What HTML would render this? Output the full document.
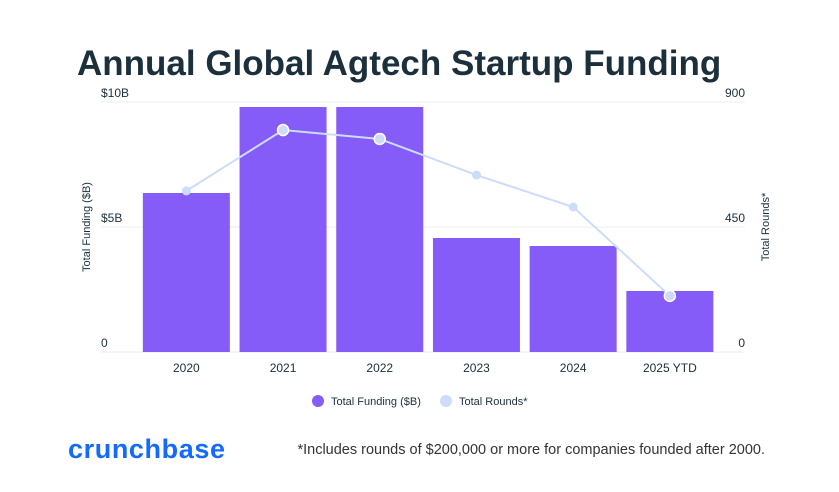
<!DOCTYPE html>
<html><head><meta charset="utf-8"><style>
html,body{margin:0;padding:0;background:#fff;width:839px;height:492px;overflow:hidden;font-family:"Liberation Sans",sans-serif}
</style></head><body>
<svg width="839" height="492" xmlns="http://www.w3.org/2000/svg">
<text x="77" y="75" font-size="35" font-weight="bold" fill="#1b2f3c">Annual Global Agtech Startup Funding</text>
<g id="grid"></g><g id="bars"></g><g id="line"></g><g id="axes"></g>
<text transform="translate(90,227) rotate(-90)" text-anchor="middle" font-size="11" fill="#1b2f3c">Total Funding ($B)</text>
<text transform="translate(769,227) rotate(-90)" text-anchor="middle" font-size="11" fill="#1b2f3c">Total Rounds*</text>
<g><circle cx="318" cy="401" r="6" fill="#855cf8"/><text x="331" y="405" font-size="11" fill="#1b2f3c">Total Funding ($B)</text></g>
<g><circle cx="446" cy="401" r="6" fill="#cddcfb"/><text x="459" y="405" font-size="11" fill="#1b2f3c">Total Rounds*</text></g>
<text x="68" y="458" font-size="27" font-weight="bold" fill="#146aff" textLength="157">crunchbase</text>
<text x="765" y="454" text-anchor="end" font-size="14.5" fill="#333">*Includes rounds of $200,000 or more for companies founded after 2000.</text>
</svg>
<script>
const categories=["2020","2021","2022","2023","2024","2025 YTD"];
const funding=[6.36,9.8,9.8,4.56,4.24,2.44];
const rounds=[580,799,767,637,522,202];
const leftTicks=[0,5,10];
const leftTickLabels=["0","$5B","$10B"];
const rightTicks=[0,450,900];
const NS="http://www.w3.org/2000/svg";
const plotTop=102,plotBottom=352,x0=138,band=96.7;
const yL=v=>plotBottom-(v/10)*(plotBottom-plotTop);
const yR=v=>plotBottom-(v/900)*(plotBottom-plotTop);
const xC=i=>x0+band*(i+0.5);
function mk(tag,attrs,parent){const e=document.createElementNS(NS,tag);for(const k in attrs)e.setAttribute(k,attrs[k]);document.getElementById(parent).appendChild(e);return e;}
leftTicks.forEach((t,i)=>{
 const g=mk('line',{x1:101,x2:745,y1:yL(t),y2:yL(t),stroke:'#ececec','stroke-width':1},'grid');
 
 
 const l=mk('text',{x:101,y:yL(t)-5,'font-size':12,fill:'#1b2f3c'},'axes');l.textContent=leftTickLabels[i];
 
 
});
rightTicks.forEach(t=>{
 const l=mk('text',{x:745,y:yR(t)-5,'font-size':12,fill:'#1b2f3c','text-anchor':'end'},'axes');l.textContent=t;
 
 
});
categories.forEach((c,i)=>{
 const b=mk('rect',{x:xC(i)-43.5,y:yL(funding[i]),width:87,height:plotBottom-yL(funding[i]),fill:'#855cf8'},'bars');
 
 
 const l=mk('text',{x:xC(i),y:372,'font-size':12,fill:'#1b2f3c','text-anchor':'middle'},'axes');l.textContent=c;
 
 
});
const pl=mk('polyline',{points:rounds.map((v,i)=>xC(i)+','+yR(v)).join(' '),fill:'none',stroke:'#cddcfb','stroke-width':2},'line');


rounds.forEach((v,i)=>{
 const big=(i==1||i==2||i==5);
 const p=mk('circle',{cx:xC(i),cy:yR(v),r:big?5.5:4.5,fill:'#cddcfb',stroke:'#fff','stroke-width':big?1.5:0},'line');
 
 
});
</script>
</body></html>
